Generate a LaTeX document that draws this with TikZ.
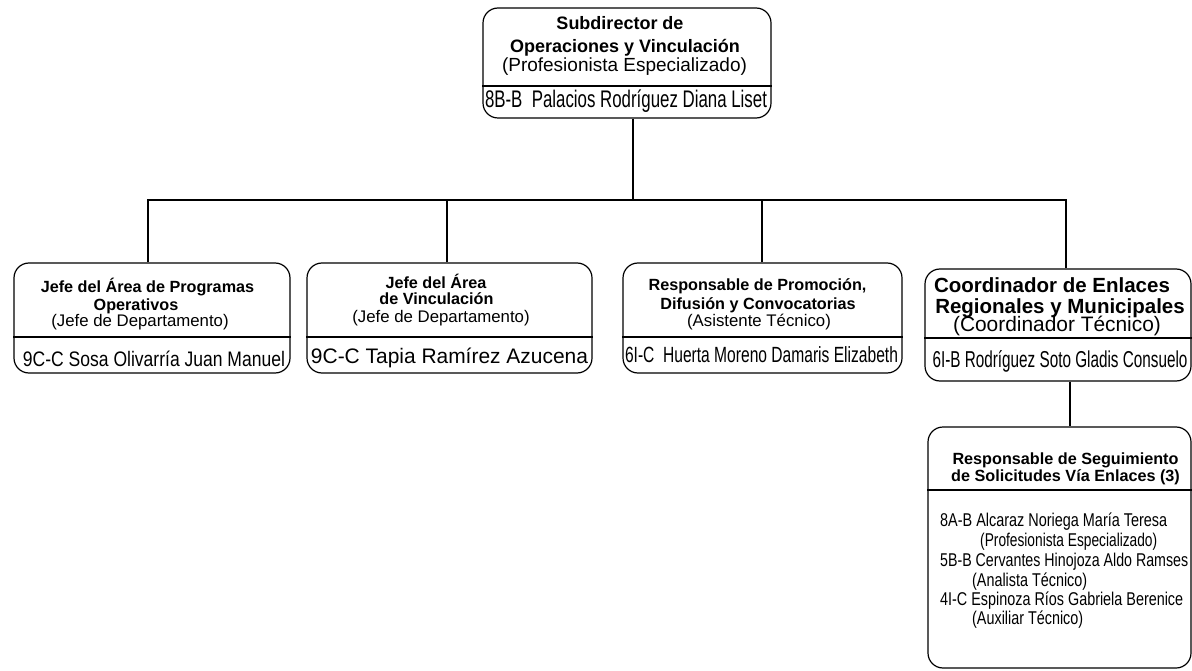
\documentclass[tikz,border=0pt]{standalone}
\usepackage{fontspec}
\setmainfont{Liberation Sans}
\usepackage{graphicx}
\newcommand\nw[3]{\resizebox{#1pt}{\height}{\fontsize{#2pt}{#2pt}\selectfont #3}}
\begin{document}
\begin{tikzpicture}[x=1pt,y=-1pt,
  box/.style={draw, line width=1.2pt, rounded corners=15pt, inner sep=0pt},
  ln/.style={line width=1.1pt},
  tb/.style={inner sep=0pt, anchor=base, font=\fontsize{16.2pt}{18pt}\selectfont\bfseries},
  tr/.style={inner sep=0pt, anchor=base, font=\fontsize{16.8pt}{18pt}\selectfont},
  tbb/.style={inner sep=0pt, anchor=base, font=\fontsize{18pt}{20pt}\selectfont\bfseries},
  trb/.style={inner sep=0pt, anchor=base, font=\fontsize{19pt}{20pt}\selectfont},
  tbc/.style={inner sep=0pt, anchor=base, font=\fontsize{20.5pt}{22pt}\selectfont\bfseries},
  trc/.style={inner sep=0pt, anchor=base, font=\fontsize{20.9pt}{22pt}\selectfont},
  nm/.style={inner sep=0pt, anchor=base},
  nl/.style={inner sep=0pt, anchor=base west}]
\useasboundingbox[fill=white] (0,0) rectangle (1192,671);

% top box
\node[box, minimum width=288pt, minimum height=110pt] (top) at (627,63) {};
\draw[ln] (top.west |- 0,86) -- (top.east |- 0,86);
\node[tbb] (t1) at (620,30) {Subdirector de};
\node[tbb] (t2) at (625,53) {Operaciones y Vinculación};
\node[trb] (t3) at (624.5,72) {(Profesionista Especializado)};
\node[nm] (t4) at (626,108) {\nw{282}{24}{8B-B\ \ Palacios Rodríguez Diana Liset}};

% box 1
\node[box, minimum width=276pt, minimum height=110pt] (b1) at (152,318) {};
\draw[ln] (b1.west |- 0,337) -- (b1.east |- 0,337);
\node[tb] (b1a) at (147.5,293) {Jefe del Área de Programas};
\node[tb] (b1b) at (136,310) {Operativos};
\node[tr] (b1c) at (140,326) {(Jefe de Departamento)};
\node[nm] (b1d) at (154,366) {\nw{262}{21}{9C-C Sosa Olivarría Juan Manuel}};

% box 2
\node[box, minimum width=285pt, minimum height=110pt] (b2) at (449.5,318) {};
\draw[ln] (b2.west |- 0,337) -- (b2.east |- 0,337);
\node[tb] (b2a) at (436,288) {Jefe del Área};
\node[tb] (b2b) at (436.5,305) {de Vinculación};
\node[tr] (b2c) at (441,322.5) {(Jefe de Departamento)};
\node[nm] (b2d) at (449.5,363) {\nw{277}{21}{9C-C Tapia Ramírez Azucena}};

% box 3
\node[box, minimum width=279pt, minimum height=110pt] (b3) at (762.5,318) {};
\draw[ln] (b3.west |- 0,337) -- (b3.east |- 0,337);
\node[tb] (b3a) at (757.5,290.5) {Responsable de Promoción,};
\node[tb] (b3b) at (758,309) {Difusión y Convocatorias};
\node[tr] (b3c) at (759,326) {(Asistente Técnico)};
\node[nm] (b3d) at (761.5,362.5) {\nw{273}{22}{6I-C\ \ Huerta Moreno Damaris Elizabeth}};

% box 4
\node[box, minimum width=266pt, minimum height=112pt] (b4) at (1058,325) {};
\draw[ln] (b4.west |- 0,338) -- (b4.east |- 0,338);
\node[tbc] (b4a) at (1052,293) {Coordinador de Enlaces};
\node[tbc] (b4b) at (1060,313) {Regionales y Municipales};
\node[trc] (b4c) at (1057,331.5) {(Coordinador Técnico)};
\node[nm] (b4d) at (1060,367) {\nw{255}{23}{6I-B Rodríguez Soto Gladis Consuelo}};

% box 5
\node[box, minimum width=263pt, minimum height=241pt] (b5) at (1059.5,547.5) {};
\draw[ln] (b5.west |- 0,490) -- (b5.east |- 0,490);
\node[tb] (b5a) at (1065.5,464) {Responsable de Seguimiento};
\node[tb] (b5b) at (1065.5,481.5) {de Solicitudes Vía Enlaces (3)};
\node[nl] (p1) at (940,526.5) {\nw{227}{18.5}{8A-B Alcaraz Noriega María Teresa}};
\node[nl] (p1r) at (980,546) {\nw{177}{18.5}{(Profesionista Especializado)}};
\node[nl] (p2) at (940,566) {\nw{248}{18.5}{5B-B Cervantes Hinojoza Aldo Ramses}};
\node[nl] (p2r) at (972,586) {\nw{115}{18.5}{(Analista Técnico)}};
\node[nl] (p3) at (940,605.5) {\nw{243}{18.5}{4I-C Espinoza Ríos Gabriela Berenice}};
\node[nl] (p3r) at (972,624.3) {\nw{111}{18.5}{(Auxiliar Técnico)}};

% connectors
\coordinate (bus) at (633,200);
\draw[ln] ([xshift=6pt]top.south) -- (bus);
\draw[ln] ([xshift=-4pt]b1.north) |- (bus);
\draw[ln] ([xshift=8pt]b4.north) |- (bus);
\draw[ln] ([xshift=-2.5pt]b2.north) |- (bus);
\draw[ln] ([xshift=-0.5pt]b3.north) |- (bus);
\draw[ln] ([xshift=12pt]b4.south) -- ([xshift=10.5pt]b5.north);
\end{tikzpicture}
\end{document}
